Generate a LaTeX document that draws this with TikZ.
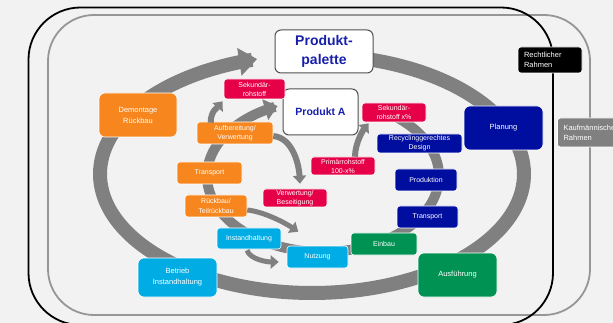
\documentclass[tikz,border=0pt]{standalone}
\usepackage{fontspec}
\setmainfont{Liberation Sans}
\usetikzlibrary{arrows.meta,calc}

\definecolor{bg}{RGB}{242,242,242}
\definecolor{ringgray}{RGB}{128,128,128}
\definecolor{orng}{RGB}{247,134,30}
\definecolor{rd}{RGB}{230,0,72}
\definecolor{dblue}{RGB}{0,14,160}
\definecolor{cyn}{RGB}{0,172,228}
\definecolor{grn}{RGB}{0,146,82}
\definecolor{framegray}{RGB}{150,150,150}
\definecolor{ptext}{RGB}{24,32,170}

\begin{document}
\begin{tikzpicture}[x=1pt,y=-1pt,
  box/.style={rounded corners=3pt, draw=white, line width=0.6pt, inner sep=0pt,
    align=center, text=white, font=\fontsize{7}{9}\selectfont},
  bigbox/.style={box, rounded corners=6pt, font=\fontsize{7.5}{11}\selectfont},
  sidebox/.style={box, align=left, inner xsep=6pt, text width=52pt,
    font=\fontsize{7.5}{10}\selectfont},
  prodbox/.style={rounded corners=6pt, draw={rgb,255:red,80;green,80;blue,80},
    line width=1pt, fill=white, inner sep=0pt, align=center, text=ptext},
  smallarrow/.style={draw=ringgray, line width=5pt,
    -{Triangle[width=13pt,length=8pt]}},
]
\useasboundingbox (0,0) rectangle (613,323);
\clip (0,0) rectangle (613,323);
\fill[bg] (0,0) rectangle (613,323);

% framework outlines
\draw[framegray, line width=1.8pt, rounded corners=46pt] (48,15) rectangle (590,315);
\draw[black, line width=1.8pt, rounded corners=52pt] (28.5,7.5) rectangle (553,325);

% outer life-cycle ring
\draw[ringgray, line width=14pt, -{Triangle[width=27pt,length=18pt]}]
  plot[domain=-78:255, samples=160, smooth] ({312+212*cos(\x)}, {174+119*sin(\x)});
% inner product ring
\draw[ringgray, line width=10pt, -{Triangle[width=21pt,length=13pt]}]
  plot[domain=-55:247, samples=140, smooth] ({323+116*cos(\x)}, {176+76*sin(\x)});

% product boxes
\node[prodbox, minimum width=98pt, minimum height=43pt,
  font=\fontsize{14}{19}\selectfont\bfseries] (palette) at (324,51.5) {Produkt-\\palette};
\node[prodbox, minimum width=75pt, minimum height=46pt,
  font=\fontsize{10.5}{12}\selectfont\bfseries] (prodA) at (320.5,112) {Produkt A};

% outer ring phases
\node[bigbox, fill=orng, minimum width=78pt, minimum height=44pt] (demont) at (138,115) {Demontage\\Rückbau};
\node[bigbox, fill=dblue, minimum width=79pt, minimum height=44pt] (planung) at (503.5,128) {Planung};
\node[bigbox, fill=grn, minimum width=79pt, minimum height=44pt] (ausf) at (457.5,275) {Ausführung};
\node[bigbox, fill=cyn, minimum width=79pt, minimum height=39pt] (betrieb) at (177.5,277.5) {Betrieb\\Instandhaltung};

% inner ring steps
\node[box, fill=rd, minimum width=61pt, minimum height=20pt] (sek1) at (254.5,89) {Sekundär-\\rohstoff};
\node[box, fill=rd, minimum width=64pt, minimum height=19pt] (sek2) at (394,112.5) {Sekundär-\\rohstoff x\%};
\node[box, fill=orng, minimum width=76pt, minimum height=22pt] (aufb) at (235,133) {Aufbereitung/\\Verwertung};
\node[box, fill=orng, minimum width=65pt, minimum height=22pt] (transO) at (209.5,173) {Transport};
\node[box, fill=orng, minimum width=62pt, minimum height=22pt, font=\fontsize{7}{10}\selectfont] (rueck) at (216,206) {Rückbau/\\Teilrückbau};
\node[box, fill=cyn, minimum width=64pt, minimum height=21pt] (instand) at (249,238.5) {Instandhaltung};
\node[box, fill=cyn, minimum width=61pt, minimum height=22pt] (nutzung) at (317.5,257) {Nutzung};
\node[box, fill=rd, minimum width=64pt, minimum height=18pt] (verw) at (295,198) {Verwertung/\\Beseitigung};
\node[box, fill=rd, minimum width=64pt, minimum height=18pt] (primaer) at (343,166) {Primärrohstoff\\100-x\%};
\node[box, fill=dblue, minimum width=85pt, minimum height=19pt] (recyc) at (419.5,143.5) {Recyclinggerechtes\\Design};
\node[box, fill=dblue, minimum width=62pt, minimum height=22pt] (produktion) at (426,180) {Produktion};
\node[box, fill=dblue, minimum width=61pt, minimum height=22pt] (transB) at (427.5,217) {Transport};
\node[box, fill=grn, minimum width=66pt, minimum height=22pt] (einbau) at (384,244) {Einbau};

% frameworks
\node[sidebox, fill=black, minimum height=26pt] (recht) at (550,60) {Rechtlicher\\Rahmen};
\node[sidebox, fill=ringgray, minimum height=29pt] (kauf) at (589.5,132.5) {Kaufmännischer\\Rahmen};

% small loop arrows
\draw[smallarrow, line width=6pt] ($(aufb.north west)+(14,1)$) .. controls +(0,-12) and +(-5,6) .. ($(sek1.south west)+(-1,2)$);
\draw[smallarrow, line width=6pt] ($(aufb.east)+(0,3)$) .. controls +(20,2) and +(-1,-18) .. ($(verw.north)+(5,-5)$);
\draw[smallarrow, line width=6pt] ($(primaer.north)+(12,0)$) .. controls +(0,-14) and +(-5,6) .. ($(sek2.south west)+(7,1)$);
\draw[smallarrow] ($(rueck.east)+(0,4)$) .. controls +(18,2) and +(-12,-8) .. ($(instand.north east)+(17,4)$);
\draw[smallarrow] ($(instand.south)+(-2,1)$) .. controls +(3,9) and +(-12,0) .. ($(nutzung.west)+(-8,5)$);
\end{tikzpicture}
\end{document}
